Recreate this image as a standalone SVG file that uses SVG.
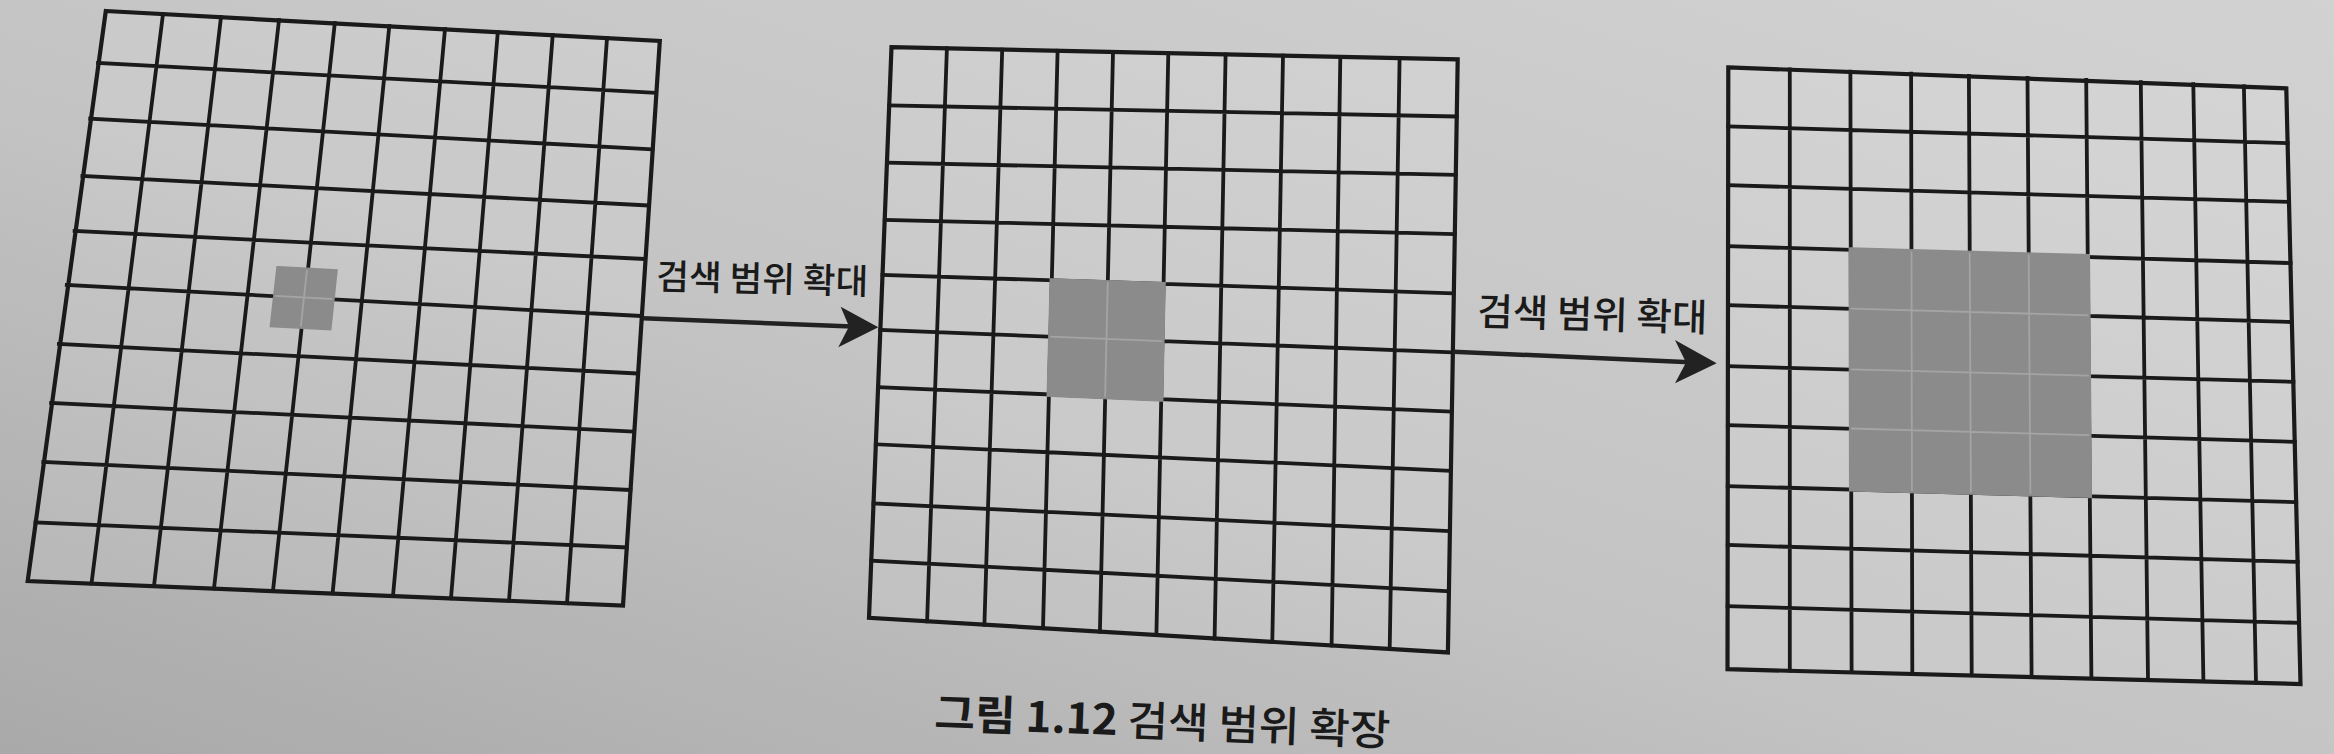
<svg xmlns="http://www.w3.org/2000/svg" width="2334" height="754" viewBox="0 0 2334 754">
<defs>
<linearGradient id="bg" x1="1" y1="0" x2="0" y2="1">
<stop offset="0" stop-color="#d2d2d2"/>
<stop offset="0.55" stop-color="#c4c4c4"/>
<stop offset="1" stop-color="#a9a9a9"/>
</linearGradient>
<style>
.cellbg{fill:#ffffff;fill-opacity:0.1;stroke:none}
.ln{fill:none;stroke:#1a1a1a;stroke-width:3.8;stroke-linecap:square}
.bd{fill:none;stroke:#1a1a1a;stroke-width:4.2;stroke-linejoin:miter}
.shade{fill:#8b8b8b;stroke:#8b8b8b;stroke-width:4.5;stroke-linejoin:miter}
.sub{fill:none;stroke:#a4a4a4;stroke-width:1.8}
.conn{fill:none;stroke:#222;stroke-width:4.5}
.head{fill:#222;stroke:none}
.lbl{font-family:"Noto Sans CJK KR","Noto Sans",sans-serif;fill:#1a1a1a;font-weight:500}
</style>
</defs>
<rect x="0" y="0" width="2334" height="754" fill="url(#bg)"/>

<g id="grid1">
<polygon class="cellbg" points="105.8,11 659.8,41 623,605.5 27.7,581"/>
<path class="ln" d="M163,14 L91.5,583.5 M221,17 L154,585.9 M279,20 L214,588.4 M334.8,23 L273,590.8 M389.3,26 L332.6,593.3 M445,29 L393,595.7 M497.8,32 L451,598.2 M552.7,35 L509,600.6 M607,38 L567,603.1 M98,63 L656.1,92.9 M90.2,118.6 L652.4,149.4 M82.4,176 L648.8,205.5 M74.6,231 L645.1,259 M66.8,285 L641.4,316 M58.9,344 L637.7,373.5 M51.1,403 L634,431.6 M43.3,462 L630.4,490 M35.5,522.5 L626.7,547.4"/>
<polygon class="bd" points="105.8,11 659.8,41 623,605.5 27.7,581"/>
<polygon class="shade" points="278.4,268.3 335.4,271.3 329.4,328.1 272,325.1"/>
<path class="sub" d="M307,269.8 L300.8,326.6 M275.2,295.9 L332.4,299"/>
</g>

<g id="grid2">
<polygon class="cellbg" points="891.5,47.1 1457.7,59.4 1447.9,652.4 869,617.8"/>
<path class="ln" d="M946.9,48.3 L927.1,621.3 M1002.2,49.6 L984.4,624.7 M1057.6,50.8 L1043,628.2 M1113,52 L1099.9,631.6 M1168.3,53.3 L1156.4,635.1 M1225.6,54.5 L1214.6,638.6 M1283,55.7 L1272.3,642 M1340.3,57 L1331.6,645.5 M1399.6,58.2 L1389.7,648.9 M889.3,105.5 L1456.7,116.5 M887,162.7 L1455.7,174.9 M884.8,219.8 L1454.8,234.1 M882.5,274.9 L1453.8,293.3 M880.3,330 L1452.8,352.4 M878,387.1 L1451.8,411.6 M875.8,444.3 L1450.8,470.8 M873.5,503.5 L1449.9,531.2 M871.3,560.6 L1448.9,591.2"/>
<polygon class="bd" points="891.5,47.1 1457.7,59.4 1447.9,652.4 869,617.8"/>
<polygon class="shade" points="1051.8,280.4 1163.5,284.1 1161.2,399.4 1048.8,394.5"/>
<path class="sub" d="M1107.8,282.3 L1105.1,396.9 M1050.3,336.7 L1162.4,341.2"/>
</g>

<g id="grid3">
<polygon class="cellbg" points="1728.3,67.4 2286.3,88.4 2300.5,684 1727.5,669.2"/>
<path class="ln" d="M1789.8,69.5 L1789.8,670.7 M1850.4,71.6 L1851.6,672.2 M1911.1,73.7 L1912.3,673.6 M1968.9,75.8 L1971.7,675.1 M2027.5,77.9 L2031.6,676.6 M2086.2,80 L2091.4,678.1 M2140.8,82.1 L2148,679.6 M2193.3,84.2 L2203.4,681 M2243.9,86.3 L2256,682.5 M1728.2,126.3 L2287.7,143.1 M1728.1,185.2 L2289.1,202 M1728.1,246.2 L2290.6,263.1 M1728,305.2 L2292,322 M1727.9,366.2 L2293.4,381.8 M1727.8,425.1 L2294.8,441.9 M1727.7,486.1 L2296.2,502.1 M1727.7,545 L2297.7,561.9 M1727.6,606.1 L2299.1,622.9"/>
<polygon class="bd" points="1728.3,67.4 2286.3,88.4 2300.5,684 1727.5,669.2"/>
<polygon class="shade" points="1850.8,249.6 2087.8,256.3 2089.8,495.7 1851.2,489.3"/>
<path class="sub" d="M1911.5,251.3 L1911.9,490.9 M1969.7,253 L1970.9,492.5 M2028.7,254.7 L2030.4,494.1 M1850.9,308.6 L2088.3,315.3 M1851,369.3 L2088.8,375.6 M1851.1,428.5 L2089.3,435.2"/>
</g>

<g id="connectors">
<g id="arrow1">
<path class="conn" d="M643,318.3 L852,326.4"/>
<polygon class="head" points="878.3,327.3 840.7,306.7 849,326.6 838.3,347.3"/>
<text class="lbl" x="656" y="289" font-size="35" textLength="212" lengthAdjust="spacingAndGlyphs" transform="rotate(1.4 656 289)">검색 범위 확대</text>
</g>
<g id="arrow2">
<path class="conn" d="M1453.3,351.7 L1690,362.3"/>
<polygon class="head" points="1716.7,363.3 1675,340 1686,362.5 1675,383.3"/>
<text class="lbl" x="1477" y="325" font-size="38" textLength="230" lengthAdjust="spacingAndGlyphs" transform="rotate(1.6 1477 325)">검색 범위 확대</text>
</g>
</g>

<g id="caption">
<text class="lbl" x="934" y="728" font-size="42" textLength="456" lengthAdjust="spacingAndGlyphs" transform="rotate(2.2 934 728)"><tspan font-weight="700">그림 1.12</tspan> 검색 범위 확장</text>
</g>
</svg>
